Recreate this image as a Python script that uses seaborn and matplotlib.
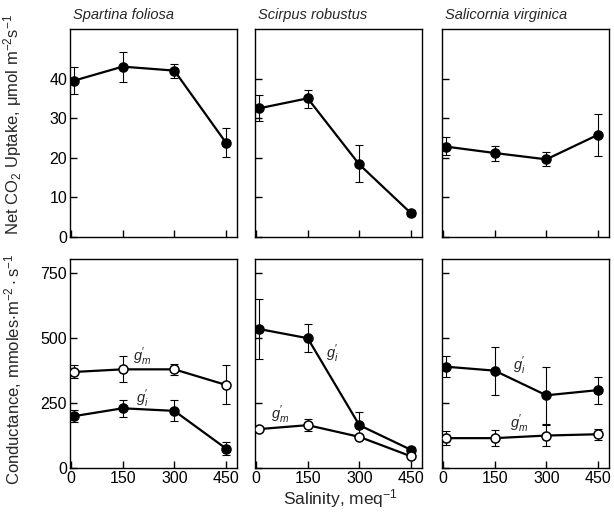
import matplotlib
matplotlib.use("Agg")
import matplotlib.pyplot as plt
import seaborn as sns
import numpy as np
import pandas as pd

sns.set_style("ticks")
plt.rcParams['font.family'] = ['Liberation Sans', 'DejaVu Sans']
plt.rcParams['mathtext.fontset'] = 'custom'
plt.rcParams['mathtext.rm'] = 'Liberation Sans'
plt.rcParams['mathtext.it'] = 'Liberation Sans:italic'
plt.rcParams['mathtext.default'] = 'regular'

# ---------------- data ----------------
salinity = [10, 150, 300, 450]
species = ["Spartina foliosa", "Scirpus robustus", "Salicornia virginica"]

# Net CO2 uptake (mean, lower err, upper err)
co2_spartina = [39.5, 43.0, 42.0, 23.8]
co2_spartina_lo = [3.5, 4.0, 1.8, 3.5]
co2_spartina_hi = [3.5, 3.8, 1.6, 3.6]
co2_scirpus = [32.5, 35.0, 18.3, 6.0]
co2_scirpus_lo = [3.2, 2.5, 4.5, 0.8]
co2_scirpus_hi = [3.3, 2.2, 4.9, 0.8]
co2_salicornia = [22.8, 21.2, 19.6, 25.8]
co2_salicornia_lo = [2.0, 2.0, 1.6, 5.4]
co2_salicornia_hi = [2.4, 1.8, 1.8, 5.2]

# Conductance g'm (open) and g'i (filled)
gm_spartina = [370, 380, 380, 320]
gm_spartina_err = [25, 50, 20, 75]
gi_spartina = [200, 230, 220, 75]
gi_spartina_err = [22, 32, 40, 25]
gi_scirpus = [535, 500, 165, 70]
gi_scirpus_err = [117, 55, 50, 10]
gm_scirpus = [150, 165, 120, 45]
gm_scirpus_err = [0, 22, 0, 0]
gi_salicornia = [390, 375, 280, 300]
gi_salicornia_err = [40, 92, 110, 52]
gm_salicornia = [115, 115, 125, 130]
gm_salicornia_err = [27, 30, 40, 22]

co2_sets = [
    (co2_spartina, co2_spartina_lo, co2_spartina_hi),
    (co2_scirpus, co2_scirpus_lo, co2_scirpus_hi),
    (co2_salicornia, co2_salicornia_lo, co2_salicornia_hi),
]
cond_sets = [
    ((gm_spartina, gm_spartina_err), (gi_spartina, gi_spartina_err)),
    ((gm_scirpus, gm_scirpus_err), (gi_scirpus, gi_scirpus_err)),
    ((gm_salicornia, gm_salicornia_err), (gi_salicornia, gi_salicornia_err)),
]
# label positions (salinity, value) for g'm and g'i
gm_label_pos = [(205, 430), (70, 205), (222, 172)]
gi_label_pos = [(208, 268), (222, 440), (222, 395)]

xticks = [0, 150, 300, 450]

# ---------------- figure ----------------
W, H = 614, 513
fig = plt.figure(figsize=(W / 100, H / 100), dpi=100)

lefts = [70, 255, 442]
width = 167
top_row = (29, 237)
bot_row = (259, 468)


def make_ax(xpx, row):
    t, b = row
    return fig.add_axes([xpx / W, 1 - b / H, width / W, (b - t) / H])


def style(ax, show_ylabels, show_xlabels):
    for s in ax.spines.values():
        s.set_linewidth(1.0)
        s.set_color("black")
    ax.tick_params(direction="in", length=5, width=1, labelsize=11.5,
                   colors="black", pad=2)
    ax.set_xticks(xticks)
    if not show_xlabels:
        ax.set_xticklabels([])
    if not show_ylabels:
        ax.set_yticklabels([])
    ax.set_xlim(-3, 482)


def series(ax, x, y, lo, hi, filled):
    df = pd.DataFrame({"x": x, "y": y})
    ax.errorbar(x, y, yerr=[lo, hi], fmt="none", ecolor="black",
                elinewidth=0.8, capsize=3, capthick=0.8, zorder=2)
    sns.lineplot(data=df, x="x", y="y", ax=ax, color="black", lw=1.6,
                 marker="o", markersize=6.5,
                 markerfacecolor="black" if filled else "white",
                 markeredgecolor="black", markeredgewidth=1.1, zorder=3)
    ax.set_xlabel("")
    ax.set_ylabel("")


GM = r"$\mathit{g}^{\prime}_{\mathit{m}}$"
GI = r"$\mathit{g}^{\prime}_{\mathit{i}}$"

for i in range(3):
    # top row
    ax = make_ax(lefts[i], top_row)
    y, lo, hi = co2_sets[i]
    series(ax, salinity, y, lo, hi, True)
    ax.set_ylim(0, 52.5)
    ax.set_yticks([0, 10, 20, 30, 40])
    style(ax, i == 0, False)
    ax.text(0.015, 1.035, species[i], transform=ax.transAxes, fontsize=10.5,
            style="italic", ha="left", va="bottom")
    if i == 0:
        ax.set_ylabel("Net CO$_2$ Uptake, $\\mu$mol m$^{-2}$s$^{-1}$",
                      fontsize=12)
        ax.yaxis.set_label_coords(-0.275, 0.54)

    # bottom row
    ax2 = make_ax(lefts[i], bot_row)
    (gm, gme), (gi, gie) = cond_sets[i]
    series(ax2, salinity, gi, gie, gie, True)
    series(ax2, salinity, gm, gme, gme, False)
    ax2.set_ylim(0, 805)
    ax2.set_yticks([0, 250, 500, 750])
    style(ax2, i == 0, True)
    ax2.text(*gm_label_pos[i], GM, fontsize=10.5, ha="center", va="center")
    ax2.text(*gi_label_pos[i], GI, fontsize=10.5, ha="center", va="center")
    if i == 0:
        ax2.set_ylabel("Conductance, mmoles$\\cdot$m$^{-2}\\cdot$s$^{-1}$",
                       fontsize=12)
        ax2.yaxis.set_label_coords(-0.275, 0.47)

fig.text(340 / W, 1 - 499 / H, "Salinity, meq$^{-1}$", ha="center",
         va="center", fontsize=12.5)

fig.savefig("out.png", dpi=100)
